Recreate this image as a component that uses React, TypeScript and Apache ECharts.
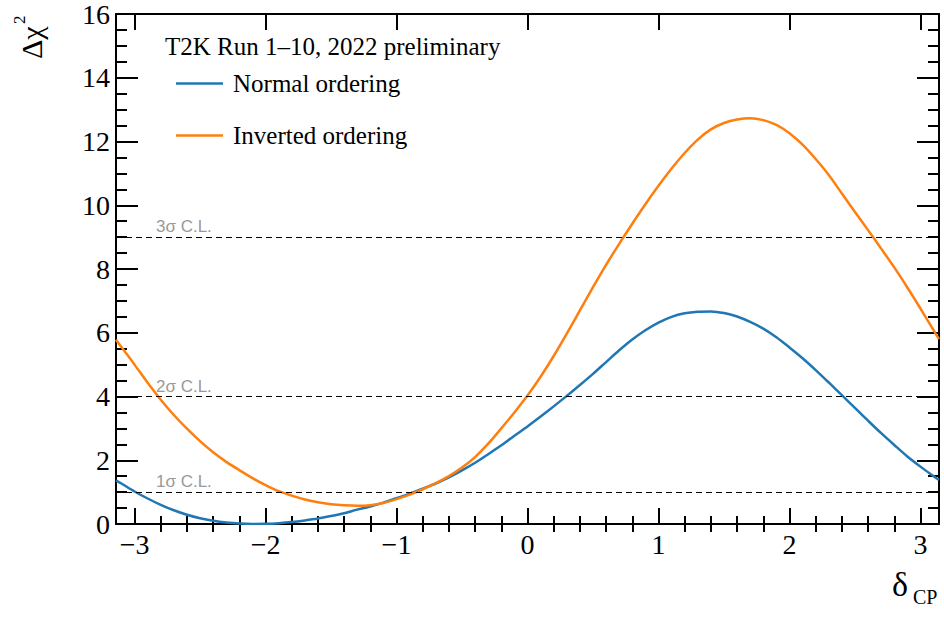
import React, { useEffect, useRef } from "react";
import * as echarts from "echarts";

// δCP grid and Δχ² values
const deltaCP = [
  -3.1416, -3.1, -3.0, -2.9, -2.8, -2.7, -2.6, -2.5, -2.4, -2.3, -2.2, -2.1, -2.0, -1.9, -1.8, -1.7,
  -1.6, -1.5, -1.4, -1.3, -1.2, -1.1, -1.0, -0.9, -0.8, -0.7, -0.6, -0.5, -0.4, -0.3, -0.2, -0.1,
  0.0, 0.1, 0.2, 0.3, 0.4, 0.5, 0.6, 0.7, 0.8, 0.9, 1.0, 1.1, 1.2, 1.3, 1.4, 1.5,
  1.6, 1.7, 1.8, 1.9, 2.0, 2.1, 2.2, 2.3, 2.4, 2.5, 2.6, 2.7, 2.8, 2.9, 3.0, 3.1, 3.1416,
];
const normalOrdering = [
  1.37, 1.27, 1.02, 0.8, 0.6, 0.43, 0.29, 0.18, 0.1, 0.045, 0.012, 0.0, 0.005, 0.025, 0.06, 0.11,
  0.17, 0.25, 0.34, 0.45, 0.55, 0.67, 0.81, 0.955, 1.11, 1.27, 1.46, 1.68, 1.92, 2.19, 2.47, 2.77,
  3.06, 3.37, 3.69, 4.02, 4.36, 4.71, 5.08, 5.45, 5.79, 6.08, 6.32, 6.5, 6.61, 6.66, 6.67, 6.62,
  6.51, 6.34, 6.13, 5.86, 5.54, 5.2, 4.83, 4.44, 4.04, 3.64, 3.24, 2.85, 2.48, 2.12, 1.8, 1.5, 1.38,
];
const invertedOrdering = [
  5.78, 5.55, 5.0, 4.43, 3.9, 3.42, 2.99, 2.6, 2.25, 1.95, 1.69, 1.44, 1.22, 1.03, 0.89, 0.77,
  0.68, 0.62, 0.585, 0.57, 0.59, 0.66, 0.78, 0.92, 1.09, 1.28, 1.5, 1.77, 2.1, 2.52, 3.0, 3.5,
  4.03, 4.62, 5.27, 5.97, 6.7, 7.43, 8.13, 8.79, 9.42, 10.03, 10.61, 11.15, 11.64, 12.06, 12.38, 12.58,
  12.69, 12.73, 12.67, 12.52, 12.26, 11.9, 11.45, 10.95, 10.37, 9.79, 9.22, 8.64, 8.05, 7.42, 6.76, 6.08, 5.8,
];
const seriesNames = ["Normal ordering", "Inverted ordering"];
const seriesColors = ["#1f77b4", "#ff7f0e"];
const clLevels = [1, 4, 9];
const clLabels = ["1σ C.L.", "2σ C.L.", "3σ C.L."];
const xMajorTicks = [-3, -2, -1, 0, 1, 2, 3];
const xMinorTicks = [
  -2.8, -2.6, -2.4, -2.2, -1.8, -1.6, -1.4, -1.2, -0.8, -0.6, -0.4, -0.2,
  0.2, 0.4, 0.6, 0.8, 1.2, 1.4, 1.6, 1.8, 2.2, 2.4, 2.6, 2.8,
];
const titleText = "T2K Run 1–10, 2022 preliminary";

const SERIF = "Liberation Serif";
const SANS = "Liberation Sans";

export default function App() {
  const ref = useRef<HTMLDivElement>(null);
  useEffect(() => {
    if (!ref.current) return;
    const chart = echarts.init(ref.current, null, { renderer: "svg" });
    const axisLine = { show: true, onZero: false, lineStyle: { color: "#000", width: 2 } };
    const xBase = { type: "value", min: -Math.PI, max: Math.PI, splitLine: { show: false } };
    const fmt = (v: number) => (v < 0 ? "−" + Math.abs(v) : String(v));
    const xAxes = [
      {
        ...xBase,
        position: "bottom",
        axisLine,
        axisTick: { inside: true, length: 16, customValues: xMajorTicks, lineStyle: { color: "#000", width: 2 } },
        axisLabel: {
          customValues: xMajorTicks,
          formatter: fmt,
          fontFamily: SERIF,
          fontSize: 28,
          color: "#000",
          margin: 6,
        },
      },
      {
        ...xBase,
        position: "bottom",
        axisLine: { show: false },
        axisTick: { inside: true, length: 8, customValues: xMinorTicks, lineStyle: { color: "#000", width: 2 } },
        axisLabel: { show: false, customValues: xMinorTicks },
      },
      {
        ...xBase,
        position: "top",
        axisLine,
        axisTick: { inside: true, length: 16, customValues: xMajorTicks, lineStyle: { color: "#000", width: 2 } },
        axisLabel: { show: false, customValues: xMajorTicks },
      },
      {
        ...xBase,
        position: "top",
        axisLine: { show: false },
        axisTick: { inside: true, length: 8, customValues: xMinorTicks, lineStyle: { color: "#000", width: 2 } },
        axisLabel: { show: false, customValues: xMinorTicks },
      },
    ];
    const yBase = {
      type: "value",
      min: 0,
      max: 16,
      interval: 2,
      splitLine: { show: false },
      minorSplitLine: { show: false },
      axisLine,
      axisTick: { inside: true, length: 22, lineStyle: { color: "#000", width: 2 } },
      minorTick: { show: true, splitNumber: 4, length: 11, lineStyle: { color: "#000", width: 2 } },
    };
    const yAxes = [
      {
        ...yBase,
        position: "left",
        axisLabel: { fontFamily: SERIF, fontSize: 28, color: "#000", margin: 6 },
      },
      { ...yBase, position: "right", axisLabel: { show: false } },
    ];
    chart.setOption({
      animation: false,
      backgroundColor: "#fff",
      title: {
        text: titleText,
        left: 165,
        top: 34,
        padding: 0,
        textStyle: { fontFamily: SERIF, fontSize: 25, fontWeight: "normal", color: "#000" },
      },
      legend: {
        data: seriesNames,
        left: 176,
        top: 71,
        orient: "vertical",
        icon: "rect",
        itemGap: 27,
        itemWidth: 47,
        itemHeight: 2.5,
        padding: 0,
        textStyle: { fontFamily: SERIF, fontSize: 25, color: "#000", padding: [0, 0, 0, 5] },
      },
      grid: { left: 116, right: 5, top: 10, bottom: 97 },
      xAxis: xAxes,
      yAxis: yAxes,
      series: [
        {
          name: seriesNames[0],
          type: "line",
          data: deltaCP.map((d, i) => [d, normalOrdering[i]]),
          smooth: 0.3,
          symbol: "none",
          clip: true,
          lineStyle: { color: seriesColors[0], width: 2.5 },
          itemStyle: { color: seriesColors[0] },
          z: 3,
          markLine: {
            silent: true,
            symbol: "none",
            animation: false,
            lineStyle: { color: "#000", width: 1.2, type: [6, 4] },
            label: {
              show: true,
              position: "insideStartTop",
              formatter: "{b}",
              color: "#999",
              fontFamily: SANS,
              fontSize: 17,
              distance: [40, 2],
            },
            data: clLevels.map((v, i) => ({ yAxis: v, name: clLabels[i] })),
          },
        },
        {
          name: seriesNames[1],
          type: "line",
          data: deltaCP.map((d, i) => [d, invertedOrdering[i]]),
          smooth: 0.3,
          symbol: "none",
          clip: true,
          lineStyle: { color: seriesColors[1], width: 2.5 },
          itemStyle: { color: seriesColors[1] },
          z: 4,
        },
      ],
      graphic: [
        {
          type: "text",
          x: 31,
          y: 59,
          rotation: Math.PI / 2,
          style: { text: "Δχ", fontSize: 30, fontFamily: SERIF, fill: "#000", align: "left", verticalAlign: "middle" },
        },
        {
          type: "text",
          x: 19,
          y: 24,
          rotation: Math.PI / 2,
          style: { text: "2", fontSize: 17, fontFamily: SERIF, fill: "#000", align: "left", verticalAlign: "middle" },
        },
        {
          type: "text",
          x: 892,
          y: 584,
          style: { text: "δ", fontSize: 34, fontFamily: SERIF, fill: "#000", align: "left", verticalAlign: "middle" },
        },
        {
          type: "text",
          x: 913,
          y: 597,
          style: { text: "CP", fontSize: 20, fontFamily: SERIF, fill: "#000", align: "left", verticalAlign: "middle" },
        },
      ],
    });
    return () => chart.dispose();
  }, []);
  return (
    <div
      ref={ref}
      style={{ position: "absolute", left: 0, top: 0, width: 944, height: 621, background: "#fff" }}
    />
  );
}
